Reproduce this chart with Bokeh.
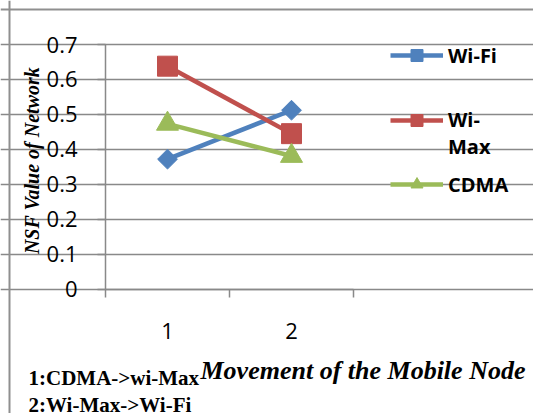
import math
from bokeh.plotting import figure
from bokeh.models import (Range1d, FixedTicker, Legend, LegendItem, Label, Span)
from bokeh.embed import file_html
from bokeh.resources import INLINE

# ---- data ----
x_vals = [1, 2]
x_labels = ["1", "2"]
wifi = [0.372, 0.512]
wimax = [0.638, 0.445]
cdma = [0.473, 0.381]
y_ticks = [0, 0.1, 0.2, 0.3, 0.4, 0.5, 0.6, 0.7]
y_tick_labels = ["0", "0.1", "0.2", "0.3", "0.4", "0.5", "0.6", "0.7"]
series_names = ["Wi-Fi", "\nWi-\nMax", "CDMA"]
y_title = "NSF Value of Network"
x_title = "Movement of the Mobile Node"
notes = ["1:CDMA->wi-Max", "2:Wi-Max->Wi-Fi"]

BLUE = "#4F81BD"
RED = "#C0504D"
GREEN = "#9BBB59"
GRAY = "#898989"

# ---- layout (pixels inside the canvas) ----
W, H = 533, 413
PL, PR, PT, PB = 105, 353, 44, 288.7     # plot area edges
X0, X1, Y0, Y1 = 0.5, 2.5, 0.0, 0.7      # data extent of plot area
sx = (PR - PL) / (X1 - X0)
sy = (PB - PT) / (Y1 - Y0)
x_start = X0 - PL / sx
x_end = x_start + W / sx
y_end = Y1 + PT / sy
y_start = y_end - H / sy


def dx(px):
    return x_start + px / sx


def dy(py):
    return y_end - py / sy


p = figure(width=W, height=H, output_backend="svg", toolbar_location=None,
           x_range=Range1d(x_start, x_end), y_range=Range1d(y_start, y_end),
           min_border=0, min_border_left=0, min_border_right=0,
           min_border_top=0, min_border_bottom=0)
p.outline_line_color = None
p.background_fill_color = "white"
p.border_fill_color = "white"

# y axis
ya = p.yaxis[0]
ya.fixed_location = X0
ya.bounds = (Y0, Y1)
ya.ticker = FixedTicker(ticks=y_ticks)
ya.major_label_overrides = {t: l for t, l in zip(y_ticks, y_tick_labels)}
ya.axis_line_color = GRAY
ya.axis_line_width = 1.5
ya.major_tick_line_color = GRAY
ya.major_tick_line_width = 1.5
ya.major_tick_out = 8
ya.major_tick_in = 0
ya.minor_tick_line_color = None
ya.major_label_text_font = "Open Sans"
ya.major_label_text_font_size = "22px"
ya.major_label_text_color = "black"
ya.major_label_standoff = 20

# x axis
xa = p.xaxis[0]
xa.fixed_location = Y0
xa.bounds = (X0, X1)
xa.ticker = FixedTicker(ticks=x_vals, minor_ticks=[0.5, 1.5, 2.5])
xa.major_label_overrides = {t: l for t, l in zip(x_vals, x_labels)}
xa.axis_line_color = GRAY
xa.axis_line_width = 1.5
xa.major_tick_line_color = None
xa.major_tick_out = 0
xa.major_tick_in = 0
xa.minor_tick_line_color = GRAY
xa.minor_tick_line_width = 1.5
xa.minor_tick_out = 8
xa.minor_tick_in = 0
xa.major_label_text_font = "Open Sans"
xa.major_label_text_font_size = "22px"
xa.major_label_text_color = "black"
xa.major_label_standoff = 26

p.xgrid.grid_line_color = None
p.ygrid.ticker = FixedTicker(ticks=y_ticks)
p.ygrid.bounds = (X0, X1)
p.ygrid.grid_line_color = GRAY
p.ygrid.grid_line_width = 1.5

# series
l1 = p.line(x_vals, wifi, line_color=BLUE, line_width=4.5)
m1 = p.scatter(x_vals, wifi, marker="square", angle=math.pi / 4, size=14,
               fill_color=BLUE, line_color=BLUE)
l2 = p.line(x_vals, wimax, line_color=RED, line_width=4.5)
m2 = p.scatter(x_vals, wimax, marker="square", size=20,
               fill_color=RED, line_color=RED)
l3 = p.line(x_vals, cdma, line_color=GREEN, line_width=4.5)
m3 = p.scatter(x_vals, cdma, marker="triangle", size=22,
               fill_color=GREEN, line_color=GREEN)

legend = Legend(items=[
    LegendItem(label=series_names[0], renderers=[l1, m1]),
    LegendItem(label=series_names[1], renderers=[l2, m2]),
    LegendItem(label=series_names[2], renderers=[l3, m3]),
], location=(390, 214))
legend.glyph_width = 53
legend.glyph_height = 30
legend.label_height = 30
legend.spacing = 9
legend.padding = 0
legend.margin = 0
legend.label_standoff = 5
legend.border_line_color = None
legend.background_fill_alpha = 0
legend.label_text_font = "Open Sans"
legend.label_text_font_style = "bold"
legend.label_text_font_size = "20px"
legend.label_text_line_height = 1.35
legend.label_text_color = "black"
p.add_layout(legend, "center")

# titles and notes
p.add_layout(Label(x=dx(31), y=dy(160), text=y_title,
                   angle=math.pi / 2, text_align="center", text_baseline="middle",
                   text_font="Liberation Serif", text_font_style="bold italic",
                   text_font_size="20px", text_color="black"))
p.add_layout(Label(x=dx(200), y=dy(370), text=x_title,
                   text_align="left", text_baseline="alphabetic",
                   text_font="Liberation Serif", text_font_style="bold italic",
                   text_font_size="26px", text_color="black"))
for i, t in enumerate(notes):
    p.add_layout(Label(x=dx(28), y=dy(377 + 27 * i), text=t,
                       text_align="left", text_baseline="alphabetic",
                       text_font="Liberation Serif", text_font_style="bold",
                       text_font_size="21px", text_color="black"))

# outer frame (left and top edges only)
p.add_layout(Span(location=dx(9), dimension="height", line_color="#8f8f8f", line_width=2))
p.add_layout(Span(location=dy(9), dimension="width", line_color="#8f8f8f", line_width=2))

open("out.html", "w").write(file_html(p, INLINE))
